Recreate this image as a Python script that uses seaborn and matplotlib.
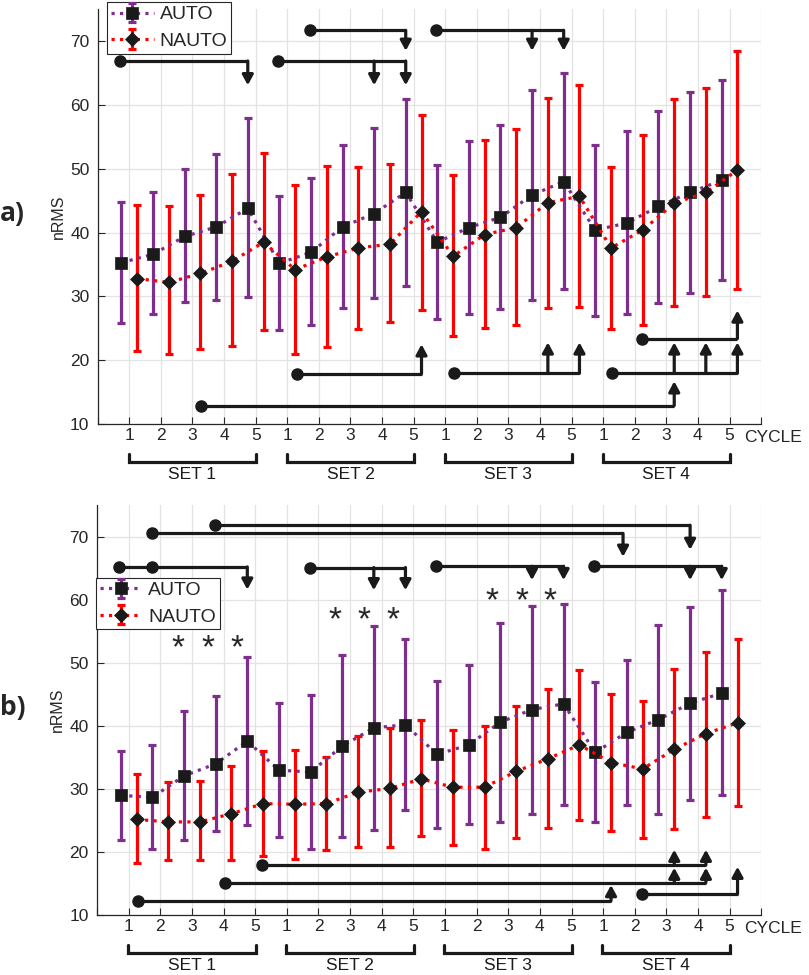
import numpy as np
import matplotlib
matplotlib.use('Agg')
import matplotlib.pyplot as plt
import seaborn as sns
from matplotlib.legend_handler import HandlerTuple

# ---------------------------
# data
# ---------------------------
cycles = [1, 2, 3, 4, 5]
set_names = ['SET 1', 'SET 2', 'SET 3', 'SET 4']
group_names = ['AUTO', 'NAUTO']

# panel a)
a_auto_mean = [35.3, 36.6, 39.4, 40.9, 43.8, 35.2, 36.9, 40.9, 43.0, 46.3,
               38.5, 40.8, 42.4, 45.9, 48.0, 40.4, 41.5, 44.1, 46.3, 48.2]
a_auto_hi = [44.8, 46.3, 50.0, 52.4, 57.9, 45.7, 48.6, 53.7, 56.4, 61.0,
             50.6, 54.3, 56.8, 62.4, 65.1, 53.8, 55.9, 59.0, 62.0, 64.0]
a_auto_lo = [25.8, 27.3, 29.1, 29.5, 29.9, 24.7, 25.5, 28.2, 29.8, 31.6,
             26.5, 27.3, 28.0, 29.5, 31.1, 26.9, 27.3, 29.0, 30.6, 32.5]
a_nauto_mean = [32.8, 32.2, 33.6, 35.5, 38.5, 34.2, 36.2, 37.6, 38.2, 43.3,
                36.3, 39.7, 40.8, 44.7, 45.7, 37.6, 40.4, 44.6, 46.3, 49.8]
a_nauto_hi = [44.3, 44.1, 45.9, 49.2, 52.5, 47.5, 50.5, 50.3, 50.8, 58.5,
              49.1, 54.5, 56.2, 61.1, 63.1, 50.3, 55.3, 61.0, 62.7, 68.5]
a_nauto_lo = [21.5, 20.9, 21.7, 22.3, 24.7, 21.0, 22.0, 24.9, 26.0, 27.9,
              23.8, 25.1, 25.5, 28.2, 28.3, 24.9, 25.6, 28.5, 30.1, 31.2]

# panel b)
b_auto_mean = [29.0, 28.7, 32.1, 34.0, 37.6, 33.0, 32.7, 36.8, 39.7, 40.2,
               35.5, 37.0, 40.6, 42.6, 43.5, 35.8, 39.0, 41.0, 43.6, 45.2]
b_auto_hi = [36.1, 37.0, 42.4, 44.7, 51.0, 43.7, 44.9, 51.2, 55.9, 53.7,
             47.2, 49.6, 56.3, 59.0, 59.4, 47.0, 50.4, 56.0, 58.9, 61.5]
b_auto_lo = [22.0, 20.5, 22.0, 23.3, 24.3, 22.4, 20.5, 22.4, 23.5, 26.7,
             23.9, 24.5, 24.8, 26.0, 27.5, 24.8, 27.5, 26.0, 28.3, 29.1]
b_nauto_mean = [25.2, 24.8, 24.8, 26.1, 27.7, 27.6, 27.7, 29.5, 30.1, 31.6,
                30.3, 30.3, 32.8, 34.8, 37.0, 34.2, 33.2, 36.3, 38.8, 40.5]
b_nauto_hi = [32.4, 31.2, 31.3, 33.6, 36.1, 36.2, 35.1, 38.4, 39.7, 41.0,
              39.3, 40.0, 43.1, 45.9, 48.8, 45.1, 44.0, 49.0, 51.7, 53.7]
b_nauto_lo = [18.3, 18.7, 18.7, 18.7, 19.4, 19.0, 20.4, 20.9, 20.8, 22.5,
              21.1, 20.5, 22.3, 23.8, 25.1, 23.4, 22.3, 23.7, 25.5, 27.4]

# significance links: (start dots x, line level, arrow x list, arrow tip level)
a_links = [
    ([0.72], 66.9, [4.75], 63.1),
    ([5.72], 66.9, [8.75, 9.75], 63.1),
    ([6.72], 71.7, [9.75], 68.5),
    ([10.7], 71.7, [13.75, 14.75], 68.5),
    ([6.3], 17.9, [10.25], 22.5),
    ([3.27], 12.9, [18.25], 16.7),
    ([11.28], 17.95, [14.25, 15.25], 22.8),
    ([16.28], 17.95, [18.25, 19.25, 20.25], 22.8),
    ([17.23], 23.4, [20.25], 27.8),
]
b_links = [
    ([3.74], 71.8, [18.75], 67.9),
    ([1.74], 70.5, [16.63], 66.8),
    ([0.7, 1.74], 65.2, [4.75], 61.6),
    ([6.72], 65.1, [8.75, 9.75], 61.5),
    ([10.7], 65.3, [13.75, 14.75], 63.1),
    ([15.7], 65.3, [18.75, 19.75], 63.1),
    ([5.21], 18.0, [18.25, 19.25], 20.4),
    ([4.05], 15.2, [18.25, 19.25], 17.55),
    ([1.28], 12.3, [16.25], 14.8),
    ([17.23], 13.4, [20.25], 17.7),
]
a_stars = []
b_stars = [([2.57, 3.5, 4.42], 52.2), ([7.51, 8.43, 9.35], 56.7),
           ([12.5, 13.42, 14.33], 59.6)]

# ---------------------------
# style
# ---------------------------
sns.set_theme(style='whitegrid')
plt.rcParams['font.family'] = ['Liberation Sans', 'DejaVu Sans']

purple = '#7E2F8E'
red = '#FF0000'
ink = '#262626'
grid_c = '#e3e3e3'

pos = np.arange(1, 21)


def draw_panel(ax, auto, nauto, links, stars, leg_anchor):
    handles = []
    for (mean, hi, lo), xs, col, mk, ms in [(auto, pos - 0.25, purple, 's', 8.6),
                                              (nauto, pos + 0.25, red, 'D', 7.2)]:
        mean = np.array(mean)
        err = [mean - np.array(lo), np.array(hi) - mean]
        eb = ax.errorbar(xs, mean, yerr=err, fmt='none', ecolor=col, elinewidth=2.3,
                         capsize=2.9, capthick=2.3, zorder=2)
        sns.lineplot(x=xs, y=mean, ax=ax, color=col, linestyle=':', lw=2.3,
                     marker=mk, markersize=ms, markerfacecolor='k',
                     markeredgecolor='k', markeredgewidth=0.5, sort=False,
                     errorbar=None, zorder=3)
        handles.append((eb, ax.lines[-1]))

    # significance links
    for dots, ly, arrows, tip in links:
        x0 = min(dots)
        x1 = max(arrows)
        ax.plot([x0, x1], [ly, ly], color='k', lw=2.3, solid_capstyle='butt', zorder=4)
        ax.plot(dots, [ly] * len(dots), 'o', color='k', ms=8, zorder=5)
        for xa in arrows:
            ax.annotate('', xy=(xa, tip), xytext=(xa, ly),
                        arrowprops=dict(arrowstyle='-|>,head_length=0.5,head_width=0.27',
                                        lw=2.3, color='k', shrinkA=0, shrinkB=0),
                        zorder=4)
    for xs, sy in stars:
        for xsx in xs:
            ax.text(xsx, sy, '*', fontsize=24, ha='center', va='center', color=ink)

    ax.set_xlim(0, 21)
    ax.set_ylim(10, 75)
    ax.set_xticks(range(0, 22))
    ax.set_xticklabels([''] + [str(c) for c in cycles] * 4 + [''])
    ax.set_yticks(range(10, 71, 10))
    ax.tick_params(axis='both', direction='in', length=5, width=0.8, color=ink,
                   labelsize=12.5, labelcolor=ink, left=True, bottom=True)
    ax.tick_params(axis='x', pad=3)
    ax.tick_params(axis='y', pad=6)
    ax.grid(True, color=grid_c, lw=0.9)
    ax.set_axisbelow(True)
    for side in ['top', 'right']:
        ax.spines[side].set_visible(False)
    for side in ['left', 'bottom']:
        ax.spines[side].set_color(ink)
        ax.spines[side].set_linewidth(0.9)
    ax.set_ylabel('nRMS', fontsize=11.5, color=ink, labelpad=3)
    ax.set_xlabel('')

    ax.annotate('CYCLE', xy=(20.45, 0), xycoords=('data', 'axes fraction'),
                xytext=(0, -4), textcoords='offset points', ha='left', va='top',
                fontsize=12.5, color=ink, annotation_clip=False)

    # set brackets under the cycle ticks
    for k, name in enumerate(set_names):
        x0 = k * 5 + 0.98
        x1 = k * 5 + 5.02
        ax.plot([x0, x0, x1, x1], [5.3, 4.07, 4.07, 5.3], color='k', lw=2.3,
                clip_on=False, solid_joinstyle='miter')
        ax.text((x0 + x1) / 2, 2.1, name, ha='center', va='center',
                fontsize=12.5, color='k', clip_on=False)

    leg = ax.legend(handles, group_names, handler_map={tuple: HandlerTuple(ndivide=1, pad=0)},
                    loc='upper left', bbox_to_anchor=leg_anchor, fontsize=14,
                    frameon=True, fancybox=False, framealpha=1, edgecolor=ink,
                    borderpad=0.2, handlelength=2.2, handletextpad=0.3,
                    labelspacing=0.45, borderaxespad=0)
    leg.get_frame().set_linewidth(0.8)
    leg.set_zorder(6)


fig = plt.figure(figsize=(8.09, 9.75), dpi=100)
ax_a = fig.add_axes([0.1208, 0.5651, 0.820, 0.4253])
ax_b = fig.add_axes([0.1200, 0.0612, 0.821, 0.4208])

draw_panel(ax_a, (a_auto_mean, a_auto_hi, a_auto_lo),
           (a_nauto_mean, a_nauto_hi, a_nauto_lo), a_links, a_stars, (0.014, 1.018))
draw_panel(ax_b, (b_auto_mean, b_auto_hi, b_auto_lo),
           (b_nauto_mean, b_nauto_hi, b_nauto_lo), b_links, b_stars, (-0.002, 0.823))

fig.text(12 / 809, 1 - 213 / 975, 'a)', fontsize=19, fontweight='bold',
         ha='center', va='center', family=['Open Sans', 'DejaVu Sans'])
fig.text(13 / 809, 1 - 708 / 975, 'b)', fontsize=19, fontweight='bold',
         ha='center', va='center', family=['Open Sans', 'DejaVu Sans'])

fig.savefig('out.png', dpi=100)
